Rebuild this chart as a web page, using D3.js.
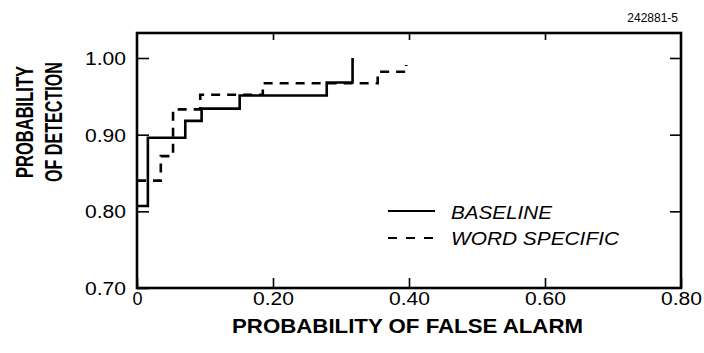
<!DOCTYPE html>
<html>
<head>
<meta charset="utf-8">
<script src="https://cdn.jsdelivr.net/npm/d3@7"></script>
<style>
  body { margin: 0; background: #fff; }
  svg { display: block; }
  text { font-family: "Liberation Sans", Arial, sans-serif; fill: #000; }
</style>
</head>
<body>
<svg id="chart" width="704" height="353"></svg>
<script>
// ROC step curves (false alarm prob, detection prob)
const baselineFa = [0, 0.016, 0.016, 0.071, 0.071, 0.095, 0.095, 0.151, 0.151, 0.279, 0.279, 0.317, 0.317];
const baselinePd = [0.807, 0.807, 0.896, 0.896, 0.918, 0.918, 0.934, 0.934, 0.951, 0.951, 0.968, 0.968, 1.00];
const wordFa = [0, 0.035, 0.035, 0.053, 0.053, 0.093, 0.093, 0.185, 0.185, 0.354, 0.354, 0.396, 0.396];
const wordPd = [0.84, 0.84, 0.872, 0.872, 0.933, 0.933, 0.952, 0.952, 0.967, 0.967, 0.982, 0.982, 0.991];

const xTicks = [0, 0.2, 0.4, 0.6, 0.8];
const xTickLabels = ["0", "0.20", "0.40", "0.60", "0.80"];
const yTicks = [0.7, 0.8, 0.9, 1.0];
const yTickLabels = ["0.70", "0.80", "0.90", "1.00"];
const legendLabels = ["BASELINE", "WORD SPECIFIC"];

const svg = d3.select("#chart");
const mLeft = 137, mRight = 681, mTop = 33, mBottom = 288;

const x = d3.scaleLinear().domain([0, 0.8]).range([mLeft, mRight]);
// 1.00 sits at y=58, frame top is a bit above it
const y = d3.scaleLinear().domain([0.70, 1.00]).range([mBottom, 58]);

// ticks drawn inward on every side
const g = svg.append("g");
g.append("g")
  .attr("transform", `translate(0,${mBottom})`)
  .call(d3.axisBottom(x).tickValues(xTicks).tickSizeInner(-10).tickSizeOuter(0).tickFormat((d, i) => xTickLabels[i]))
  .call(a => a.select(".domain").remove())
  .call(a => a.selectAll("text").attr("dy", null).attr("y", 17).attr("font-size", 18).attr("font-family", null)
    .attr("textLength", (d, i) => i === 0 ? null : 41).attr("lengthAdjust", "spacingAndGlyphs"));

g.append("g")
  .attr("transform", `translate(0,${mTop})`)
  .call(d3.axisTop(x).tickValues(xTicks.slice(1, 4)).tickSizeInner(-7).tickSizeOuter(0).tickFormat(""))
  .call(a => a.select(".domain").remove());

g.append("g")
  .attr("transform", `translate(${mLeft},0)`)
  .call(d3.axisLeft(y).tickValues(yTicks).tickSizeInner(-12).tickSizeOuter(0).tickFormat((d, i) => yTickLabels[i]))
  .call(a => a.select(".domain").remove())
  .call(a => a.selectAll("text").attr("x", -11).attr("dy", "0.36em").attr("font-size", 18).attr("font-family", null)
    .attr("textLength", 41).attr("lengthAdjust", "spacingAndGlyphs"));

g.append("g")
  .attr("transform", `translate(${mRight},0)`)
  .call(d3.axisRight(y).tickValues(yTicks.slice(1)).tickSizeInner(-11).tickSizeOuter(0).tickFormat(""))
  .call(a => a.select(".domain").remove());

g.selectAll(".tick line").attr("stroke", "#000").attr("stroke-width", 1.6);

// frame
svg.append("rect")
  .attr("x", mLeft).attr("y", mTop)
  .attr("width", mRight - mLeft).attr("height", mBottom - mTop)
  .attr("fill", "none").attr("stroke", "#000").attr("stroke-width", 2.6);

const line = d3.line().x(d => x(d[0])).y(d => y(d[1]));

svg.append("path")
  .datum(d3.zip(wordFa, wordPd))
  .attr("d", line)
  .attr("fill", "none").attr("stroke", "#000").attr("stroke-width", 2.6)
  .attr("stroke-dasharray", "9,7");

svg.append("path")
  .datum(d3.zip(baselineFa, baselinePd))
  .attr("d", line)
  .attr("fill", "none").attr("stroke", "#000").attr("stroke-width", 2.6);

// legend
const leg = svg.append("g");
leg.append("line").attr("x1", 388).attr("x2", 435).attr("y1", 211).attr("y2", 211)
  .attr("stroke", "#000").attr("stroke-width", 2.2);
leg.append("line").attr("x1", 388).attr("x2", 435).attr("y1", 238).attr("y2", 238)
  .attr("stroke", "#000").attr("stroke-width", 2.2).attr("stroke-dasharray", "9,9");
leg.selectAll("text.lab")
  .data(legendLabels)
  .enter().append("text")
  .attr("class", "lab")
  .attr("x", 451)
  .attr("y", (d, i) => 219 + i * 26)
  .attr("font-size", 19)
  .attr("font-style", "italic")
  .attr("textLength", (d, i) => i === 0 ? 101 : 168)
  .attr("lengthAdjust", "spacingAndGlyphs")
  .text(d => d);

// axis titles
svg.append("text")
  .attr("x", 232).attr("y", 333)
  .attr("font-size", 21).attr("font-weight", "bold")
  .attr("textLength", 351).attr("lengthAdjust", "spacingAndGlyphs")
  .text("PROBABILITY OF FALSE ALARM");

svg.append("text")
  .attr("transform", "translate(33,178) rotate(-90)")
  .attr("font-size", 24).attr("font-weight", "bold")
  .attr("textLength", 112).attr("lengthAdjust", "spacingAndGlyphs")
  .text("PROBABILITY");

svg.append("text")
  .attr("transform", "translate(62,182) rotate(-90)")
  .attr("font-size", 24).attr("font-weight", "bold")
  .attr("textLength", 120).attr("lengthAdjust", "spacingAndGlyphs")
  .text("OF DETECTION");

// figure id
svg.append("text")
  .attr("x", 678).attr("y", 22)
  .attr("text-anchor", "end")
  .attr("font-size", 12)
  .text("242881-5");
</script>
</body>
</html>
